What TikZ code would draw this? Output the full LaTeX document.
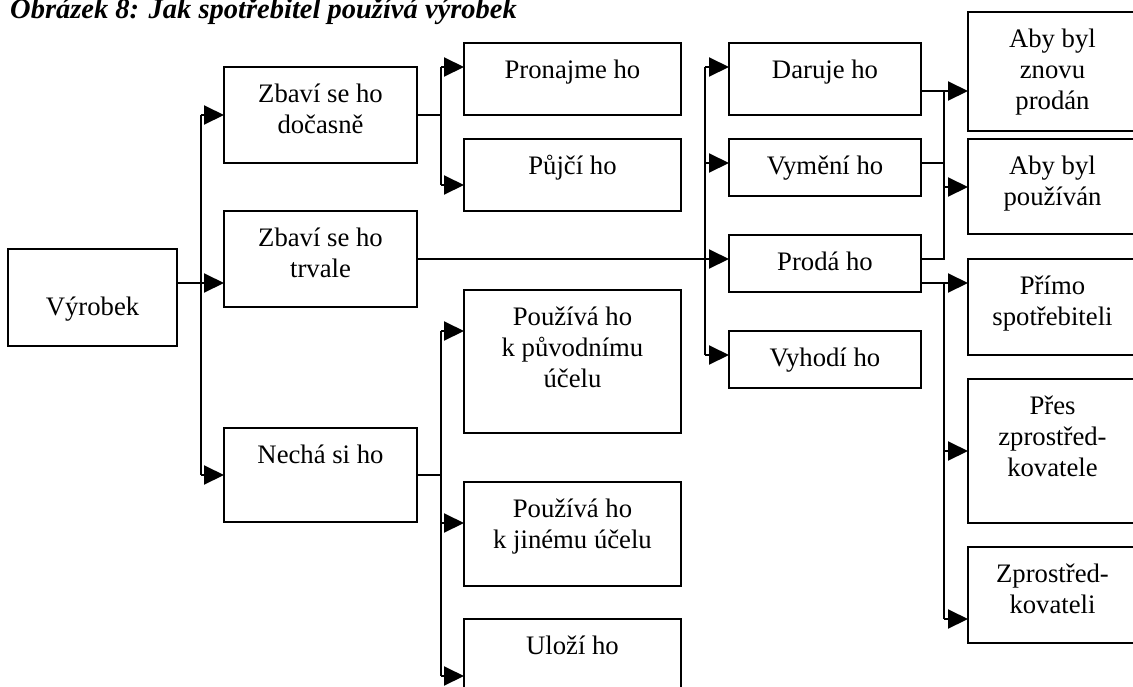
\documentclass[tikz,border=0pt]{standalone}
\usepackage{fontspec}
\setmainfont{Liberation Serif}
\usetikzlibrary{arrows.meta}

% box content: width, height, text; optional first-baseline offset
\newcommand\boxtxt[4][35]{\parbox[c][#3pt][t]{#2pt}{\centering\rule{0pt}{#1pt}#4}}

\begin{document}
\begin{tikzpicture}[x=1pt,y=-1pt,
  box/.style={draw, line width=2pt, inner sep=0pt, outer sep=0pt, anchor=north west,
    font=\fontsize{26.7pt}{31pt}\selectfont},
  conn/.style={line width=2pt},
  arr/.style={conn, -{Triangle[length=20pt,width=19pt]}},
  caption/.style={inner sep=0pt, anchor=base west,
    font=\fontsize{28.5pt}{30pt}\selectfont\bfseries\itshape}]
\useasboundingbox (0,0) rectangle (1133,686);

\node[caption] (title) at (10,18.5) {Obrázek 8: Jak spotřebitel používá výrobek};

% first level
\node[box] (vyrobek) at (8,249)  {\boxtxt[66]{169}{97}{Výrobek}};
\node[box] (docasne) at (224,67)  {\boxtxt{193}{96}{Zbaví se ho\\dočasně}};
\node[box] (trvale)  at (224,211) {\boxtxt{193}{96}{Zbaví se ho\\trvale}};
\node[box] (necha)   at (224,428) {\boxtxt{193}{94}{Nechá si ho}};

% second level
\node[box] (pronajme) at (464,43)  {\boxtxt{217}{72}{Pronajme ho}};
\node[box] (pujci)    at (464,139) {\boxtxt{217}{72}{Půjčí ho}};
\node[box] (puvodni)  at (464,290) {\boxtxt{217}{143}{Používá ho\\k původnímu\\účelu}};
\node[box] (jiny)     at (464,482) {\boxtxt{217}{104}{Používá ho\\k jinému účelu}};
\node[box] (ulozi)    at (464,619) {\boxtxt{217}{100}{Uloží ho}};

\node[box] (daruje) at (729,43)  {\boxtxt{192}{72}{Daruje ho}};
\node[box] (vymeni) at (729,139) {\boxtxt{192}{57}{Vymění ho}};
\node[box] (proda)  at (729,235) {\boxtxt{192}{57}{Prodá ho}};
\node[box] (vyhodi) at (729,331) {\boxtxt{192}{57}{Vyhodí ho}};

% third level
\node[box] (znovu)    at (968,12)  {\boxtxt{169}{119}{Aby byl\\znovu\\prodán}};
\node[box] (pouzivan) at (968,139) {\boxtxt{169}{95}{Aby byl\\používán}};
\node[box] (primo)    at (968,259) {\boxtxt{169}{96}{Přímo\\spotřebiteli}};
\node[box] (pres)     at (968,379) {\boxtxt{169}{144}{Přes\\zprostřed-\\kovatele}};
\node[box] (zprostr)  at (968,547) {\boxtxt{169}{96}{Zprostřed-\\kovateli}};

% bus lines
\coordinate (busA) at (201,0);
\coordinate (busB) at (441,0);
\coordinate (busC) at (705,0);
\coordinate (busD) at (944,0);

% entry points of the arrows
\coordinate (docIn)  at (docasne.west);
\coordinate (trvIn)  at ([yshift=24pt]trvale.south west);
\coordinate (necIn)  at (necha.west);
\coordinate (proIn)  at ([yshift=-24pt]pronajme.north west);
\coordinate (pujIn)  at ([yshift=26pt]pujci.south west);
\coordinate (puvIn)  at ([yshift=-41pt]puvodni.north west);
\coordinate (jinIn)  at ([yshift=-41pt]jiny.north west);
\coordinate (uloIn)  at ([yshift=-57pt]ulozi.north west);
\coordinate (darIn)  at ([yshift=-24pt]daruje.north west);
\coordinate (vymIn)  at ([yshift=-24pt]vymeni.north west);
\coordinate (prdIn)  at ([yshift=-24pt]proda.north west);
\coordinate (vyhIn)  at ([yshift=-24pt]vyhodi.north west);
\coordinate (znvIn)  at ([yshift=-79pt]znovu.north west);
\coordinate (pozIn)  at ([yshift=-48pt]pouzivan.north west);
\coordinate (priIn)  at ([yshift=-24pt]primo.north west);
\coordinate (preIn)  at (pres.west);
\coordinate (zprIn)  at ([yshift=-72pt]zprostr.north west);

% exit points
\coordinate (darOut)  at ([yshift=24pt]daruje.south east);
\coordinate (vymOut)  at ([yshift=-24pt]vymeni.north east);
\coordinate (prdOutA) at ([yshift=-24pt]proda.north east);
\coordinate (prdOutB) at ([yshift=-48pt]proda.north east);

% Výrobek -> first level
\draw[conn] (vyrobek.east |- trvIn) -- (busA |- trvIn);
\draw[conn] (busA |- docIn) -- (busA |- necIn);
\draw[arr] (busA |- docIn) -- (docIn);
\draw[arr] (busA |- trvIn) -- (trvIn);
\draw[arr] (busA |- necIn) -- (necIn);

% Zbaví se ho dočasně
\draw[conn] (docasne.east) -- (busB |- docasne.east);
\draw[conn] (busB |- proIn) -- (busB |- pujIn);
\draw[arr] (busB |- proIn) -- (proIn);
\draw[arr] (busB |- pujIn) -- (pujIn);

% Zbaví se ho trvale
\draw[arr] (trvale.east) -- (prdIn);
\draw[conn] (busC |- darIn) -- (busC |- vyhIn);
\draw[arr] (busC |- darIn) -- (darIn);
\draw[arr] (busC |- vymIn) -- (vymIn);
\draw[arr] (busC |- vyhIn) -- (vyhIn);

% Nechá si ho
\draw[conn] (necha.east) -- (busB |- necha.east);
\draw[conn] (busB |- puvIn) -- (busB |- uloIn);
\draw[arr] (busB |- puvIn) -- (puvIn);
\draw[arr] (busB |- jinIn) -- (jinIn);
\draw[arr] (busB |- uloIn) -- (uloIn);

% purpose of passing it on
\draw[conn] (darOut) -- (busD |- darOut) -- (busD |- prdOutA) -- (prdOutA);
\draw[conn] (vymOut) -- (busD |- vymOut);
\draw[arr] (busD |- znvIn) -- (znvIn);
\draw[arr] (busD |- pozIn) -- (pozIn);

% ways of selling
\draw[arr] (prdOutB) -- (priIn);
\draw[conn] (busD |- priIn) -- (busD |- zprIn);
\draw[arr] (busD |- preIn) -- (preIn);
\draw[arr] (busD |- zprIn) -- (zprIn);
\end{tikzpicture}
\end{document}
